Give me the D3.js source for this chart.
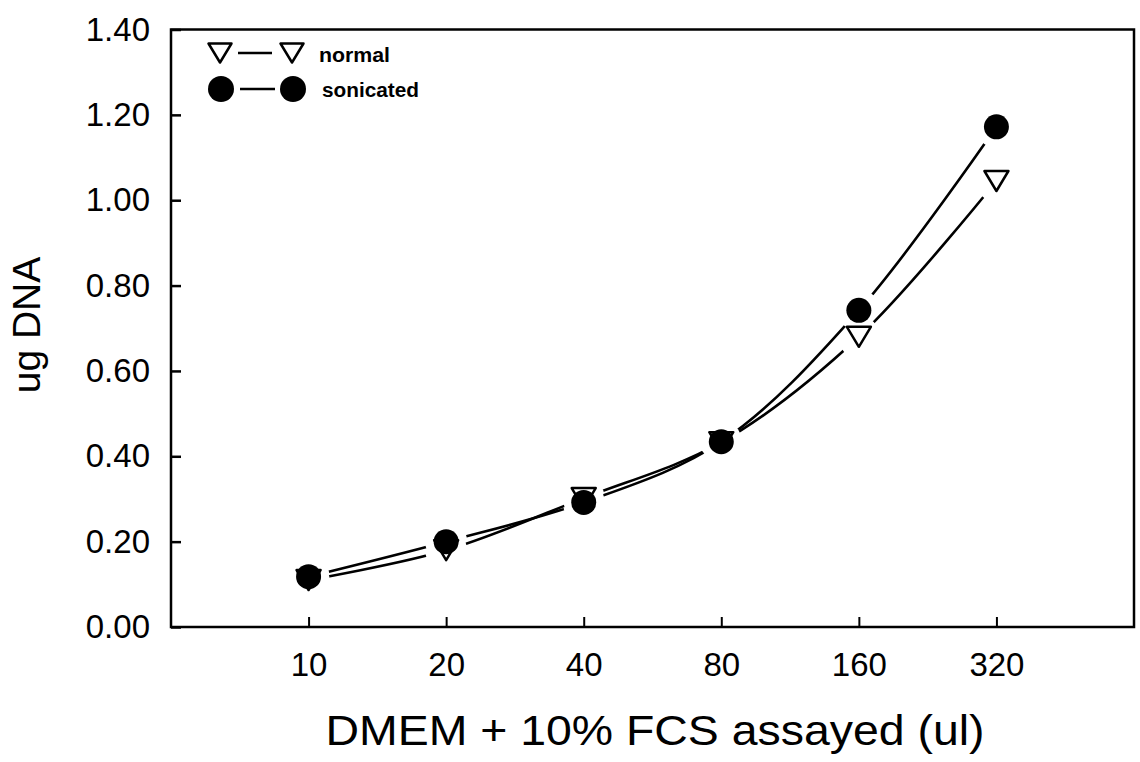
<!DOCTYPE html>
<html>
<head>
<meta charset="utf-8">
<script src="https://cdn.jsdelivr.net/npm/d3@7"></script>
<style>
  html, body { margin: 0; padding: 0; background: #fff; }
  svg { display: block; }
</style>
</head>
<body>
<script>
// ---- data ----
const volumes = [10, 20, 40, 80, 160, 320];
const normalDNA = [0.11, 0.18, 0.302, 0.433, 0.68, 1.045];
const sonicatedDNA = [0.118, 0.20, 0.292, 0.434, 0.742, 1.172];
const yTicks = [0, 0.2, 0.4, 0.6, 0.8, 1.0, 1.2, 1.4];
const xTickLabels = ["10", "20", "40", "80", "160", "320"];
const seriesNames = ["normal", "sonicated"];
const xTitle = "DMEM + 10% FCS assayed (ul)";
const yTitle = "ug DNA";

const W = 1140, H = 762;
const L = 171, R = 1134, T = 29.5, B = 627;

const svg = d3.select("body").append("svg").attr("width", W).attr("height", H);

const x = d3.scaleLog().base(2).domain([5, 640]).range([L, R]);
const y = d3.scaleLinear().domain([0, 1.4]).range([B, T]);

const font = "'Liberation Sans', Arial, sans-serif";

// frame
svg.append("rect").attr("x", L).attr("y", T).attr("width", R - L).attr("height", B - T)
  .attr("fill", "none").attr("stroke", "#000").attr("stroke-width", 2.5);

// y axis
const yAxis = svg.append("g").attr("transform", `translate(${L},0)`)
  .call(d3.axisLeft(y).tickValues(yTicks).tickFormat(d3.format(".2f")).tickSizeInner(-10).tickSizeOuter(0).tickPadding(21));
yAxis.select(".domain").remove();
yAxis.selectAll("line").attr("stroke", "#000").attr("stroke-width", 2.5);
yAxis.selectAll("text").attr("font-family", font).attr("font-size", 33).attr("fill", "#000");

// x axis
const xAxis = svg.append("g").attr("transform", `translate(0,${B})`)
  .call(d3.axisBottom(x).tickValues(volumes).tickFormat((d, i) => xTickLabels[i]).tickSizeInner(-10).tickSizeOuter(0).tickPadding(26));
xAxis.select(".domain").remove();
xAxis.selectAll("line").attr("stroke", "#000").attr("stroke-width", 2);
xAxis.selectAll("text").attr("font-family", font).attr("font-size", 33).attr("fill", "#000")
  .attr("dy", "0.71em");

// titles
svg.append("text").attr("x", 655).attr("y", 745).attr("text-anchor", "middle")
  .attr("font-family", font).attr("font-size", 42).attr("textLength", 659).attr("lengthAdjust", "spacingAndGlyphs")
  .text(xTitle);
svg.append("text").attr("transform", "translate(40,325) rotate(-90)").attr("text-anchor", "middle")
  .attr("font-family", font).attr("font-size", 39).text(yTitle);

// series
const series = [
  { name: seriesNames[0], values: normalDNA, type: "tri" },
  { name: seriesNames[1], values: sonicatedDNA, type: "circle" }
];

const defs = svg.append("defs");
const line = d3.line().x(d => x(d[0])).y(d => y(d[1])).curve(d3.curveCatmullRom.alpha(0.5));

function triPath(cx, cy, w, h) {
  return `M${cx - w / 2},${cy - h / 2}L${cx + w / 2},${cy - h / 2}L${cx},${cy + h / 2}Z`;
}

series.forEach((s, si) => {
  const pts = volumes.map((v, i) => [v, s.values[i]]);
  const m = defs.append("mask").attr("id", "m" + si).attr("maskUnits", "userSpaceOnUse")
    .attr("x", 0).attr("y", 0).attr("width", W).attr("height", H);
  m.append("rect").attr("width", W).attr("height", H).attr("fill", "#fff");
  m.selectAll("circle").data(pts).join("circle")
    .attr("cx", d => x(d[0])).attr("cy", d => y(d[1])).attr("r", 21).attr("fill", "#000");
  svg.append("path").datum(pts).attr("d", line).attr("fill", "none")
    .attr("stroke", "#000").attr("stroke-width", 2.6).attr("mask", `url(#m${si})`);
});

series.forEach(s => {
  const pts = volumes.map((v, i) => [v, s.values[i]]);
  if (s.type === "tri") {
    svg.append("g").selectAll("path").data(pts).join("path")
      .attr("d", d => triPath(x(d[0]), y(d[1]), 24, 20))
      .attr("fill", "#fff").attr("stroke", "#000").attr("stroke-width", 2.5).attr("stroke-linejoin", "round");
  } else {
    svg.append("g").selectAll("circle").data(pts).join("circle")
      .attr("cx", d => x(d[0])).attr("cy", d => y(d[1])).attr("r", 12.5).attr("fill", "#000");
  }
});

// legend
const lg = svg.append("g");
// normal
lg.append("path").attr("d", triPath(220, 53, 23, 19)).attr("fill", "#fff").attr("stroke", "#000").attr("stroke-width", 2.5).attr("stroke-linejoin", "round");
lg.append("line").attr("x1", 238).attr("x2", 272).attr("y1", 53).attr("y2", 53).attr("stroke", "#000").attr("stroke-width", 2.5);
lg.append("path").attr("d", triPath(292, 53, 23, 19)).attr("fill", "#fff").attr("stroke", "#000").attr("stroke-width", 2.5).attr("stroke-linejoin", "round");
lg.append("text").attr("x", 319).attr("y", 62).attr("font-family", font).attr("font-weight", "bold")
  .attr("font-size", 20).attr("textLength", 71).attr("lengthAdjust", "spacingAndGlyphs").text(seriesNames[0]);
// sonicated
lg.append("circle").attr("cx", 221).attr("cy", 89).attr("r", 13).attr("fill", "#000");
lg.append("line").attr("x1", 240).attr("x2", 275).attr("y1", 89).attr("y2", 89).attr("stroke", "#000").attr("stroke-width", 2.5);
lg.append("circle").attr("cx", 293).attr("cy", 89).attr("r", 13).attr("fill", "#000");
lg.append("text").attr("x", 322).attr("y", 97).attr("font-family", font).attr("font-weight", "bold")
  .attr("font-size", 20).attr("textLength", 97).attr("lengthAdjust", "spacingAndGlyphs").text(seriesNames[1]);
</script>
</body>
</html>
